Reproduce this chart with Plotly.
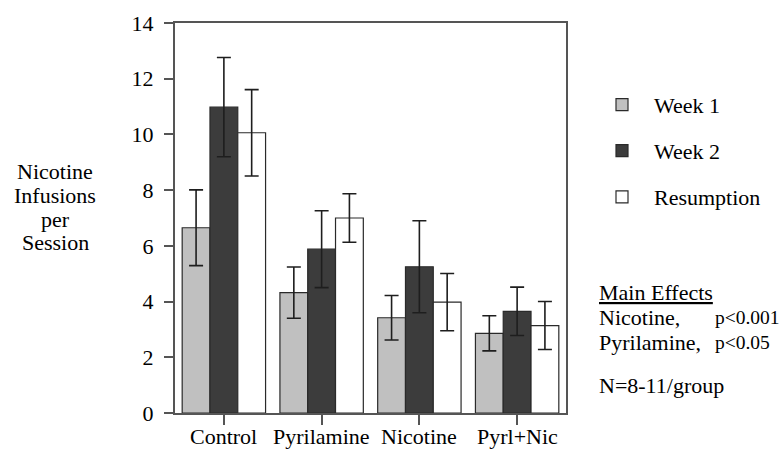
import plotly.graph_objects as go

categories = ["Control", "Pyrilamine", "Nicotine", "Pyrl+Nic"]
series_names = ["Week 1", "Week 2", "Resumption"]
week1 = [6.65, 4.32, 3.42, 2.86]
week1_err = [1.36, 0.92, 0.80, 0.63]
week2 = [10.98, 5.88, 5.25, 3.65]
week2_err = [1.78, 1.38, 1.65, 0.87]
resumption = [10.06, 7.00, 3.98, 3.14]
resumption_err = [1.55, 0.87, 1.03, 0.86]
y_ticks = [0, 2, 4, 6, 8, 10, 12, 14]
y_label_lines = ["Nicotine", "Infusions", "per", "Session"]
stats_title = "Main Effects"
stats_rows = [("Nicotine,", "p<0.001"), ("Pyrilamine,", "p<0.05")]
n_text = "N=8-11/group"

W, H = 781, 454
L, R, T, B = 175, 566, 22.7, 412.7
FONT = "Liberation Serif"
FS = 22


def px(x):
    return (x - L) / (R - L)


def py(y):
    return (B - y) / (B - T)


colors = ["#c0c0c0", "#3c3c3c", "#ffffff"]
fig = go.Figure()
for name, vals, errs, col in zip(series_names, [week1, week2, resumption],
                                 [week1_err, week2_err, resumption_err], colors):
    fig.add_trace(go.Bar(
        x=categories, y=vals, name=name, legendgroup=name,
        marker=dict(color=col, line=dict(color="#2a2a2a", width=1.2)),
        error_y=dict(type="data", array=errs, visible=True, color="#1e1e1e",
                     thickness=1.6, width=7),
    ))


def ann(text, x, y, size=FS, xanchor="left", xref="paper"):
    return dict(text=text, x=px(x) if xref == "paper" else x, y=py(y),
                xref=xref, yref="paper",
                xanchor=xanchor, yanchor="middle", showarrow=False,
                font=dict(family=FONT, size=size, color="black"))


annotations = []
# category labels under the axis
for cat in categories:
    annotations.append(ann(cat, cat, 436.5, xanchor="center", xref="x"))

ylab_y = [171.5, 195.5, 219, 242.5]
for txt, yy in zip(y_label_lines, ylab_y):
    annotations.append(ann(txt, 55, yy, xanchor="center"))

annotations.append(ann("<u>" + stats_title + "</u>", 597, 292))
for i, (a, b) in enumerate(stats_rows):
    yy = 317.5 + 24.3 * i
    annotations.append(ann(a, 597, yy))
    annotations.append(ann(b, 713, yy, size=19.5))
annotations.append(ann(n_text, 597, 385))

fig.update_layout(
    width=W, height=H,
    margin=dict(l=L, r=W - R, t=T, b=H - B, pad=0, autoexpand=False),
    paper_bgcolor="white", plot_bgcolor="white",
    barmode="group", bargap=0.147, bargroupgap=0,
    font=dict(family=FONT, size=FS, color="black"),
    showlegend=True,
    legend=dict(x=px(590), y=py(83.5), xanchor="left", yanchor="top",
                traceorder="grouped", tracegroupgap=14.5, itemwidth=54,
                font=dict(family=FONT, size=FS, color="black"),
                bgcolor="rgba(0,0,0,0)"),
    annotations=annotations,
)
fig.update_xaxes(showline=True, linecolor="#555555", linewidth=2, mirror=True,
                 ticks="outside", ticklen=10, tickwidth=1.5, tickcolor="#555555",
                 showgrid=False, range=[-0.5, 3.5], type="category", automargin=False,
                 showticklabels=False)
fig.update_yaxes(showline=True, linecolor="#555555", linewidth=2, mirror=True,
                 ticks="outside", ticklen=9, tickwidth=1.5, tickcolor="#555555",
                 showgrid=False, zeroline=False, range=[0, 14], tickvals=y_ticks,
                 ticklabelstandoff=6, automargin=False,
                 tickfont=dict(family=FONT, size=FS, color="black"))

fig.write_html("out.html")
